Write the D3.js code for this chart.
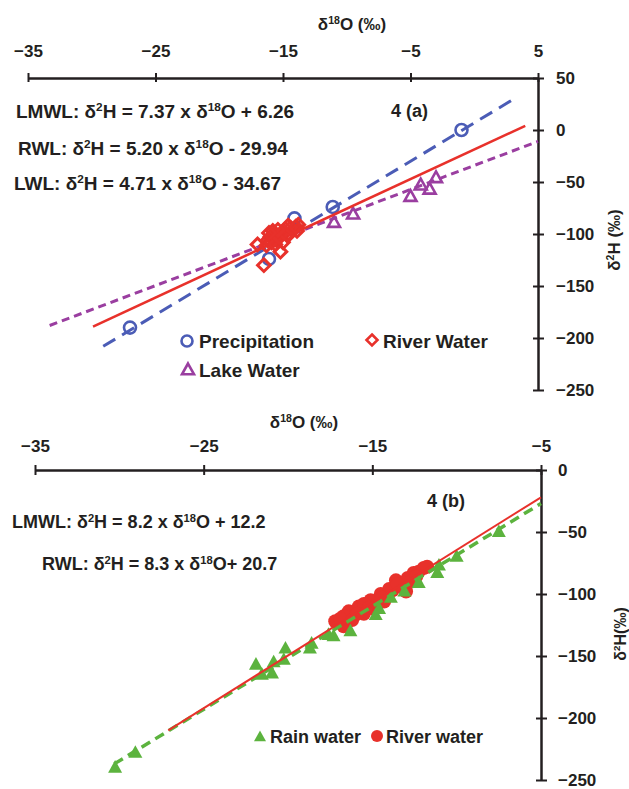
<!DOCTYPE html>
<html><head><meta charset="utf-8">
<script src="https://cdn.jsdelivr.net/npm/d3@7"></script>
<style>html,body{margin:0;padding:0;background:#fff;} text{font-family:"Liberation Sans",Arial,sans-serif;font-weight:bold;fill:#231f20;}</style>
</head><body>
<svg id="c" width="629" height="789"></svg>
<script>
// ---------- Panel (a) data ----------
const xTicksA = [-35, -25, -15, -5, 5];
const yTicksA = [50, 0, -50, -100, -150, -200, -250];
const precipX = [-27.0, -16.1, -14.1, -11.1, -1.0];
const precipY = [-190, -124, -85, -74, 0];
const riverAX = [-17.0, -16.5, -15.2, -16.3, -16.0, -15.8, -15.5, -15.2, -14.8, -14.5, -14.2, -13.8, -13.9, -15.0, -15.7, -14.6, -16.2, -15.9, -15.6, -15.3, -15.0, -14.7, -14.4, -14.0, -15.4, -16.1];
const riverAY = [-110, -130, -117, -111, -103, -97, -106, -100, -95, -100, -96, -91, -97, -108, -101, -92, -106, -108, -110, -103, -98, -101, -94, -93, -96, -99];
const lakeX = [-11.0, -9.5, -5.0, -4.2, -3.5, -3.0];
const lakeY = [-89, -81, -64, -53, -57, -46];
const lmwlAX = [-29.1, 3.0], lmwlAY = [-208, 29];
const rwlAX = [-29.9, 4.0], rwlAY = [-189, 4];
const lwlAX = [-33.3, 5.0], lwlAY = [-188, -11];

// ---------- Panel (b) data ----------
const xTicksB = [-35, -25, -15, -5];
const yTicksB = [0, -50, -100, -150, -200, -250];
const rainX = [-30.25, -29.05, -21.9, -21.55, -20.85, -20.95, -20.15, -20.25, -18.7, -18.6, -17.6, -17.3, -16.3, -14.8, -14.6, -13.9, -13.1, -12.25, -11.15, -11.05, -10.0, -7.5];
const rainY = [-240, -228, -157, -165, -155, -164, -144, -153, -144, -140, -133, -134, -130, -117, -112, -103, -98, -91, -83, -77, -70, -50];
const riverBX = [-17.2, -16.7, -16.4, -16.1, -15.8, -15.5, -15.1, -14.9, -14.5, -14.3, -13.8, -13.6, -13.3, -13.0, -12.9, -12.55, -12.25, -11.95, -11.75, -16.7, -15.5, -14.1, -13.1, -16.9, -16.2, -15.2, -14.7, -14.0, -13.5, -12.7, -12.4, -15.9, -14.4];
const riverBY = [-122, -126, -114, -118, -110, -116, -105, -112, -100, -106, -97, -89, -94, -98, -87, -83, -82, -79, -78, -118, -108, -101, -91, -120, -121, -111, -108, -96, -92, -90, -86, -116, -103];
const lmwlBX = [-30.3, -5.0], lmwlBY = [-237, -27];
const rwlBX = [-27.1, -5.0], rwlBY = [-210, -22];

const BLUE = "#4b5cb6", RED = "#e8312b", PURPLE = "#9a3ea0", GREEN = "#5cb33e";

const svg = d3.select("#c");

function rich(g, x, y, parts, size, anchor) {
  const t = g.append("text").attr("x", x).attr("y", y).attr("font-size", size).attr("text-anchor", anchor || "start");
  let up = false;
  parts.forEach(p => {
    const sup = p[1] === "sup";
    const ts = t.append("tspan").text(p[0]);
    if (sup && !up) { ts.attr("dy", -size * 0.36).attr("font-size", size * 0.62); up = true; }
    else if (sup) { ts.attr("font-size", size * 0.62); }
    else if (up) { ts.attr("dy", size * 0.36); up = false; }
  });
  return t;
}

function styleAxis(g) {
  g.select(".domain").attr("stroke", "#231f20").attr("stroke-width", 2.5);
  g.selectAll(".tick line").attr("stroke", "#231f20").attr("stroke-width", 2);
  g.selectAll(".tick text").attr("font-size", 17).attr("fill", "#231f20").style("font-family", '"Liberation Sans",Arial,sans-serif').style("font-weight", "bold");
}

function tri(cx, cy, w) {
  const h = w * 0.9;
  return `M${cx},${cy - h * 0.6}L${cx + w / 2},${cy + h * 0.4}L${cx - w / 2},${cy + h * 0.4}Z`;
}
function dia(cx, cy, r) {
  return `M${cx},${cy - r}L${cx + r},${cy}L${cx},${cy + r}L${cx - r},${cy}Z`;
}

// ================= Panel (a) =================
const xA = d3.scaleLinear().domain([-35, 5]).range([28, 538]);
const yA = d3.scaleLinear().domain([50, -250]).range([78, 390]);
const gA = svg.append("g");

const axTA = gA.append("g").attr("transform", `translate(0,${yA(50)})`)
  .call(d3.axisTop(xA).tickValues(xTicksA).tickSizeInner(5).tickSizeOuter(0).tickPadding(16).tickFormat(d3.format("d")));
styleAxis(axTA); axTA.selectAll(".tick line").attr("y1", 4);
const axRA = gA.append("g").attr("transform", `translate(${xA(5)},0)`)
  .call(d3.axisRight(yA).tickValues(yTicksA).tickSizeInner(6).tickSizeOuter(0).tickPadding(12).tickFormat(d3.format("d")));
styleAxis(axRA); axRA.selectAll(".tick line").attr("x1", -5);

rich(gA, 352, 30, [["δ", ""], ["18", "sup"], ["O (‰)", ""]], 17, "middle");
rich(gA, 0, 0, [["δ", ""], ["2", "sup"], ["H (‰)", ""]], 17, "middle").attr("transform", "translate(620,240) rotate(-90)");

rich(gA, 16, 118, [["LMWL: δ", ""], ["2", "sup"], ["H = 7.37 x δ", ""], ["18", "sup"], ["O + 6.26", ""]], 19);
rich(gA, 18, 155, [["RWL: δ", ""], ["2", "sup"], ["H = 5.20 x δ", ""], ["18", "sup"], ["O - 29.94", ""]], 19);
rich(gA, 14, 190, [["LWL: δ", ""], ["2", "sup"], ["H = 4.71 x δ", ""], ["18", "sup"], ["O - 34.67", ""]], 19);
gA.append("text").attr("x", 391).attr("y", 117).attr("font-size", 18).text("4 (a)");

// markers
gA.selectAll(".pc").data(d3.range(precipX.length)).join("circle")
  .attr("cx", i => xA(precipX[i])).attr("cy", i => yA(precipY[i])).attr("r", 6)
  .attr("fill", "none").attr("stroke", BLUE).attr("stroke-width", 2.6);
gA.selectAll(".lk").data(d3.range(lakeX.length)).join("path")
  .attr("d", i => tri(xA(lakeX[i]), yA(lakeY[i]), 12))
  .attr("fill", "none").attr("stroke", PURPLE).attr("stroke-width", 2.6);

const lineA = d3.line().x(d => xA(d[0])).y(d => yA(d[1]));
gA.append("path").attr("d", lineA(d3.zip(lwlAX, lwlAY))).attr("stroke", PURPLE).attr("stroke-width", 3).attr("stroke-dasharray", "8,5").attr("fill", "none");
gA.append("path").attr("d", lineA(d3.zip(lmwlAX, lmwlAY))).attr("stroke", BLUE).attr("stroke-width", 3).attr("stroke-dasharray", "14,8").attr("fill", "none");
gA.append("path").attr("d", lineA(d3.zip(rwlAX, rwlAY))).attr("stroke", RED).attr("stroke-width", 2.6).attr("fill", "none");

gA.selectAll(".rv").data(d3.range(riverAX.length)).join("path")
  .attr("d", i => dia(xA(riverAX[i]), yA(riverAY[i]), 6.3))
  .attr("fill", "none").attr("stroke", RED).attr("stroke-width", 3);

// legend (a)
gA.append("circle").attr("cx", 187).attr("cy", 341).attr("r", 5.5).attr("fill", "none").attr("stroke", BLUE).attr("stroke-width", 2.6);
gA.append("text").attr("x", 199).attr("y", 348).attr("font-size", 19).text("Precipitation");
gA.append("path").attr("d", dia(372, 340, 5.5)).attr("fill", "none").attr("stroke", RED).attr("stroke-width", 2.6);
gA.append("text").attr("x", 383).attr("y", 348).attr("font-size", 19).text("River Water");
gA.append("path").attr("d", tri(188, 370, 12)).attr("fill", "none").attr("stroke", PURPLE).attr("stroke-width", 2.6);
gA.append("text").attr("x", 199).attr("y", 377).attr("font-size", 19).text("Lake Water");

// ================= Panel (b) =================
const xB = d3.scaleLinear().domain([-35, -5]).range([35, 541]);
const yB = d3.scaleLinear().domain([0, -250]).range([470, 780]);
const gB = svg.append("g");

const axTB = gB.append("g").attr("transform", `translate(0,${yB(0)})`)
  .call(d3.axisTop(xB).tickValues(xTicksB).tickSizeInner(5).tickSizeOuter(0).tickPadding(13).tickFormat(d3.format("d")));
styleAxis(axTB); axTB.selectAll(".tick line").attr("y1", 5);
const axRB = gB.append("g").attr("transform", `translate(${xB(-5)},0)`)
  .call(d3.axisRight(yB).tickValues(yTicksB).tickSizeInner(6).tickSizeOuter(0).tickPadding(11).tickFormat(d3.format("d")));
styleAxis(axRB); axRB.selectAll(".tick line").attr("x1", -5);

rich(gB, 304, 428, [["δ", ""], ["18", "sup"], ["O (‰)", ""]], 17, "middle");
rich(gB, 0, 0, [["δ", ""], ["2", "sup"], ["H(‰)", ""]], 16, "middle").attr("transform", "translate(626,634) rotate(-90)");

rich(gB, 12, 528, [["LMWL: δ", ""], ["2", "sup"], ["H = 8.2 x δ", ""], ["18", "sup"], ["O + 12.2", ""]], 18);
rich(gB, 42, 570, [["RWL: δ", ""], ["2", "sup"], ["H = 8.3 x δ", ""], ["18", "sup"], ["O+ 20.7", ""]], 18);
gB.append("text").attr("x", 427).attr("y", 507).attr("font-size", 18).text("4 (b)");

gB.selectAll(".rb").data(d3.range(riverBX.length)).join("circle")
  .attr("cx", i => xB(riverBX[i])).attr("cy", i => yB(riverBY[i])).attr("r", 7)
  .attr("fill", RED);
gB.selectAll(".rn").data(d3.range(rainX.length)).join("path")
  .attr("d", i => tri(xB(rainX[i]), yB(rainY[i]), 14))
  .attr("fill", GREEN);

const lineB = d3.line().x(d => xB(d[0])).y(d => yB(d[1]));
gB.append("path").attr("d", lineB(d3.zip(lmwlBX, lmwlBY))).attr("stroke", GREEN).attr("stroke-width", 3.5).attr("stroke-dasharray", "10,6").attr("fill", "none");
gB.append("path").attr("d", lineB(d3.zip(rwlBX, rwlBY))).attr("stroke", RED).attr("stroke-width", 2).attr("fill", "none");

// legend (b)
gB.append("path").attr("d", tri(260, 737, 12)).attr("fill", GREEN);
gB.append("text").attr("x", 270).attr("y", 743).attr("font-size", 18).text("Rain water");
gB.append("circle").attr("cx", 377).attr("cy", 736).attr("r", 6).attr("fill", RED);
gB.append("text").attr("x", 386).attr("y", 743).attr("font-size", 18).text("River water");
</script>
</body></html>
